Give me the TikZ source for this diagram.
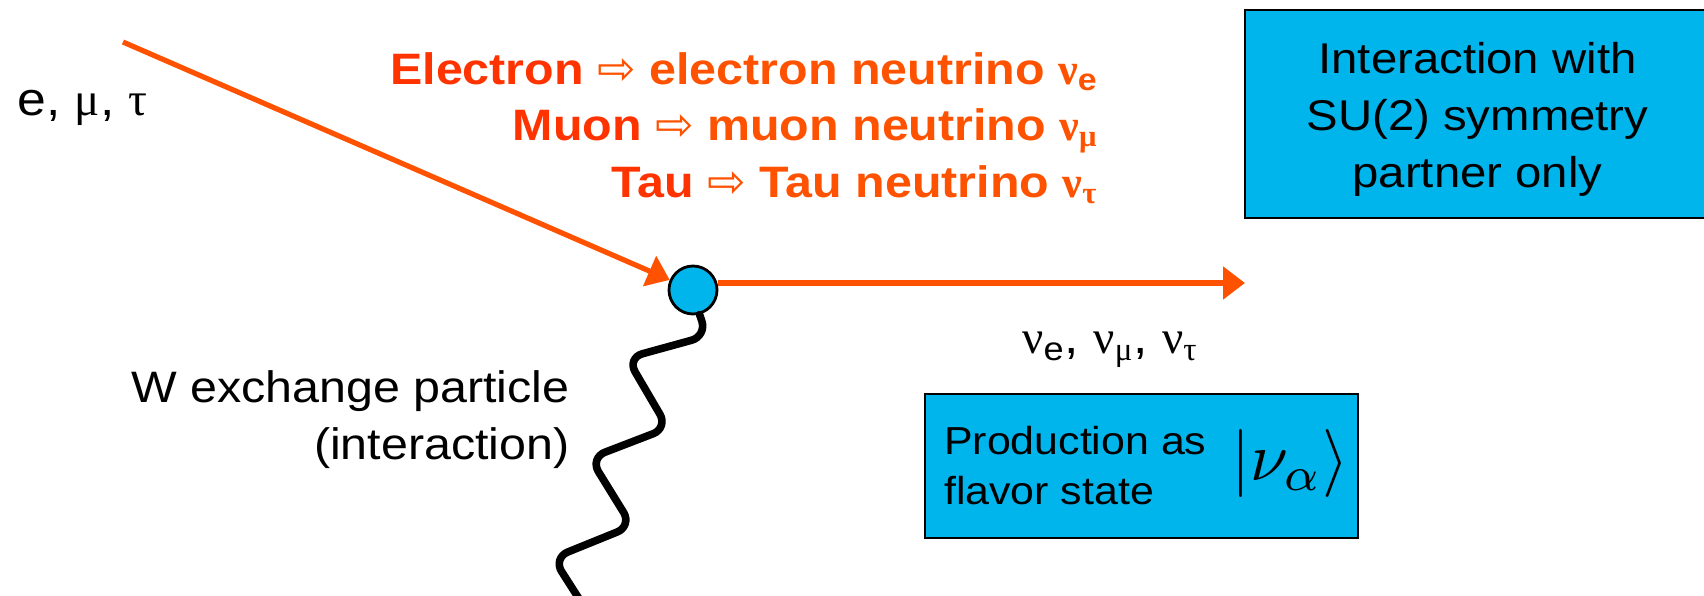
\documentclass[tikz,border=0pt]{standalone}
\usepackage{fontspec}
\setmainfont{Liberation Sans}[FakeStretch=1.1]
\newfontfamily\grkfont{Liberation Serif}
\newfontfamily\symfont{DejaVu Sans}
\usetikzlibrary{arrows.meta,positioning}
\definecolor{leptonred}{HTML}{FF3300}
\definecolor{nuorange}{HTML}{FF5200}
\definecolor{vtxblue}{HTML}{00B4EC}
\tikzset{
  fline/.style={line width=2.6pt, draw=nuorange, -{Triangle[length=11pt,width=16pt]}},
  wline/.style={line width=3.8pt, line cap=round, rounded corners=8pt},
  vtxdot/.style={circle, draw, line width=1.4pt, fill=vtxblue, minimum size=24pt, inner sep=0pt},
  infobox/.style={draw, line width=1.3pt, fill=vtxblue, inner sep=0pt, align=center},
  plainlbl/.style={font=\fontsize{22}{28.5}\selectfont, inner sep=0pt},
  flowlbl/.style={font=\fontsize{22}{28}\selectfont\bfseries, text=nuorange, inner sep=0pt, anchor=base east}
}
\newcommand{\gk}[1]{{\grkfont #1}}
\newcommand{\thenarrow}{{\fontsize{23}{23}\selectfont\symfont\mdseries ⇨}}

\begin{document}
\begin{tikzpicture}[x=0.5pt,y=-0.5pt]
  \useasboundingbox (0,0) rectangle (1704,595);
  \node[vtxdot] (vtx) at (693,290) {};
  \coordinate (lepin) at (123,42);
  \coordinate (nuout) at (1245,283);
  \coordinate (wend) at (583,605);
  \draw[fline] (lepin) -- (vtx);
  \draw[fline] (vtx.east |- nuout) -- (nuout);
  \draw[wline] (vtx.-75) -- (707,336) -- (627,358) -- (668,428) -- (590,458) -- (632,526) -- (553,558) -- (wend);
  \node[plainlbl, font=\fontsize{23.5}{28.5}\selectfont, anchor=base west] (leplbl) at (17,115) {e, \gk{μ}, \gk{τ}};
  \node[plainlbl, font=\fontsize{23.5}{28.5}\selectfont, anchor=base west] (nulbl) at (1022,353) {\gk{ν}\textsubscript{e}, \gk{ν}\textsubscript{\gk{μ}}, \gk{ν}\textsubscript{\gk{τ}}};
  \node[plainlbl, align=right, anchor=east] (wlbl) at (570,420) {W exchange particle\\(interaction)};
  \node[flowlbl] (elecrow) at (1098,84) {{\color{leptonred}Electron} \thenarrow{} electron neutrino \gk{ν}\textsubscript{e}};
  \node[flowlbl] (muonrow) at (1098,140) {{\color{leptonred}Muon} \thenarrow{} muon neutrino \gk{ν}\textsubscript{\gk{μ}}};
  \node[flowlbl] (taurow) at (1098,197) {{\color{leptonred}Tau} \thenarrow{} Tau neutrino \gk{ν}\textsubscript{\gk{τ}}};
  \node[infobox, minimum width=232.5pt, minimum height=104pt, font=\fontsize{21.5}{28.5}\selectfont] (symbox) at (1477.5,114) {\rule{0pt}{21pt}Interaction with\\SU(2) symmetry\\partner only};
  \node[infobox, minimum width=216.5pt, minimum height=72pt] (flavbox) at (1141.5,466) {};
  \node[plainlbl, font=\fontsize{19.5}{25}\selectfont, align=left, anchor=west] (prodlbl) at ([xshift=10pt]flavbox.west) {Production as\\flavor state};
  \node[inner sep=0pt] (ket) at (1290,463) {\scalebox{3.4}{$|\nu_\alpha\rangle$}};
\end{tikzpicture}
\end{document}
